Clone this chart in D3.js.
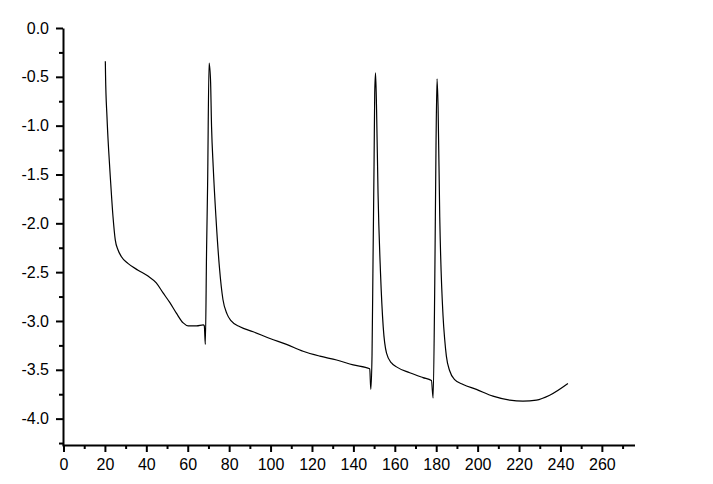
<!DOCTYPE html>
<html>
<head>
<meta charset="utf-8">
<script src="https://cdnjs.cloudflare.com/ajax/libs/d3/7.8.5/d3.min.js"></script>
<style>
  body { margin: 0; background: #fff; }
  .axis text { font-family: "Liberation Sans", Arial, sans-serif; font-size: 16px; fill: #000; }
  .axis path, .axis line { stroke: #000; stroke-width: 2; }
</style>
</head>
<body>
<div id="chart"></div>
<script>
var width = 713,
    height = 484,
    plot = {left: 63, right: 635, top: 28, bottom: 445};

// data
var timeVals = [20.2, 20.3, 21.0, 21.8, 22.8, 23.9, 25.0, 26.3, 27.9, 31.1, 36.0, 40.8, 44.8, 48.0, 51.3, 54.5,
    57.8, 60.2, 64.3, 67.5, 68.0, 68.5, 69.1, 69.6, 70.3, 71.0, 71.5, 72.3, 73.6, 75.3, 77.0, 79.0, 81.0,
    85.2, 91.6, 99.7, 107.7, 115.7, 123.8, 131.9, 139.9, 147.9, 148.4, 149.0, 149.5, 150.0, 150.3, 150.7,
    151.2, 151.9, 153.1, 154.4, 156.0, 158.4, 160.8, 167.2, 173.6, 177.7, 178.5, 179.3, 179.9, 180.4,
    180.9, 181.7, 183.3, 184.1, 184.9, 186.5, 188.9, 193.0, 199.4, 207.4, 215.5, 221.9, 228.4, 234.8, 243.6];
var signalVals = [-0.34, -0.48, -0.91, -1.25, -1.59, -1.93, -2.17, -2.27, -2.34, -2.41, -2.48, -2.54, -2.61, -2.71, -2.81, -2.92,
    -3.02, -3.05, -3.05, -3.04, -3.05, -3.24, -2.27, -1.60, -0.36, -0.53, -1.01, -1.42, -1.93, -2.45, -2.78, -2.93, -3.00,
    -3.06, -3.11, -3.18, -3.24, -3.31, -3.36, -3.40, -3.45, -3.49, -3.70, -3.35, -2.34, -1.35, -0.67, -0.46,
    -0.84, -1.69, -2.51, -3.06, -3.33, -3.43, -3.47, -3.53, -3.58, -3.61, -3.79, -2.61, -1.20, -0.52,
    -0.81, -1.93, -2.95, -3.19, -3.36, -3.51, -3.60, -3.65, -3.70, -3.77, -3.81, -3.82, -3.81, -3.76, -3.64];

var xMajor = d3.range(0, 261, 20),
    xMinor = d3.range(10, 271, 20),
    xLabels = ["0", "20", "40", "60", "80", "100", "120", "140", "160", "180", "200", "220", "240", "260"];
var yMajor = [0, -0.5, -1, -1.5, -2, -2.5, -3, -3.5, -4],
    yMinor = [-0.25, -0.75, -1.25, -1.75, -2.25, -2.75, -3.25, -3.75, -4.25],
    yLabels = ["0.0", "-0.5", "-1.0", "-1.5", "-2.0", "-2.5", "-3.0", "-3.5", "-4.0"];

var x = d3.scaleLinear().domain([0, 276]).range([plot.left + 0.5, plot.right]),
    y = d3.scaleLinear().domain([-4.27, 0]).range([plot.bottom, plot.top]);

var svg = d3.select("#chart")
        .append("svg")
        .attr("width", width)
        .attr("height", height);

// trace
var line = d3.line()
        .curve(d3.curveMonotoneX)
        .x(function(d, i) { return x(timeVals[i]); })
        .y(function(d) { return y(d); });
svg.append("path")
    .datum(signalVals)
    .attr("d", line)
    .attr("fill", "none")
    .attr("stroke", "#000")
    .attr("stroke-width", 1.2)
    .attr("stroke-linejoin", "round");

// y axis
var yAxis = svg.append("g")
        .attr("class", "axis")
        .attr("transform", "translate(" + plot.left + ",0)");
yAxis.call(d3.axisLeft(y).tickValues(yMinor).tickSize(4).tickSizeOuter(0).tickFormat(""));
yAxis.append("g")
    .call(d3.axisLeft(y).tickValues(yMajor).tickSize(7).tickPadding(7).tickSizeOuter(0)
        .tickFormat(function(d, i) { return yLabels[i]; }))
    .select(".domain").remove();

// x axis
var xAxis = svg.append("g")
        .attr("class", "axis")
        .attr("transform", "translate(0," + plot.bottom + ")");
xAxis.call(d3.axisBottom(x).tickValues(xMinor).tickSize(4).tickSizeOuter(0).tickFormat(""));
xAxis.append("g")
    .call(d3.axisBottom(x).tickValues(xMajor).tickSize(7).tickPadding(7).tickSizeOuter(0)
        .tickFormat(function(d, i) { return xLabels[i]; }))
    .select(".domain").remove();
xAxis.select(".domain").attr("d", "M" + (plot.left - 0.5) + ",0.5H" + plot.right);
</script>
</body>
</html>
